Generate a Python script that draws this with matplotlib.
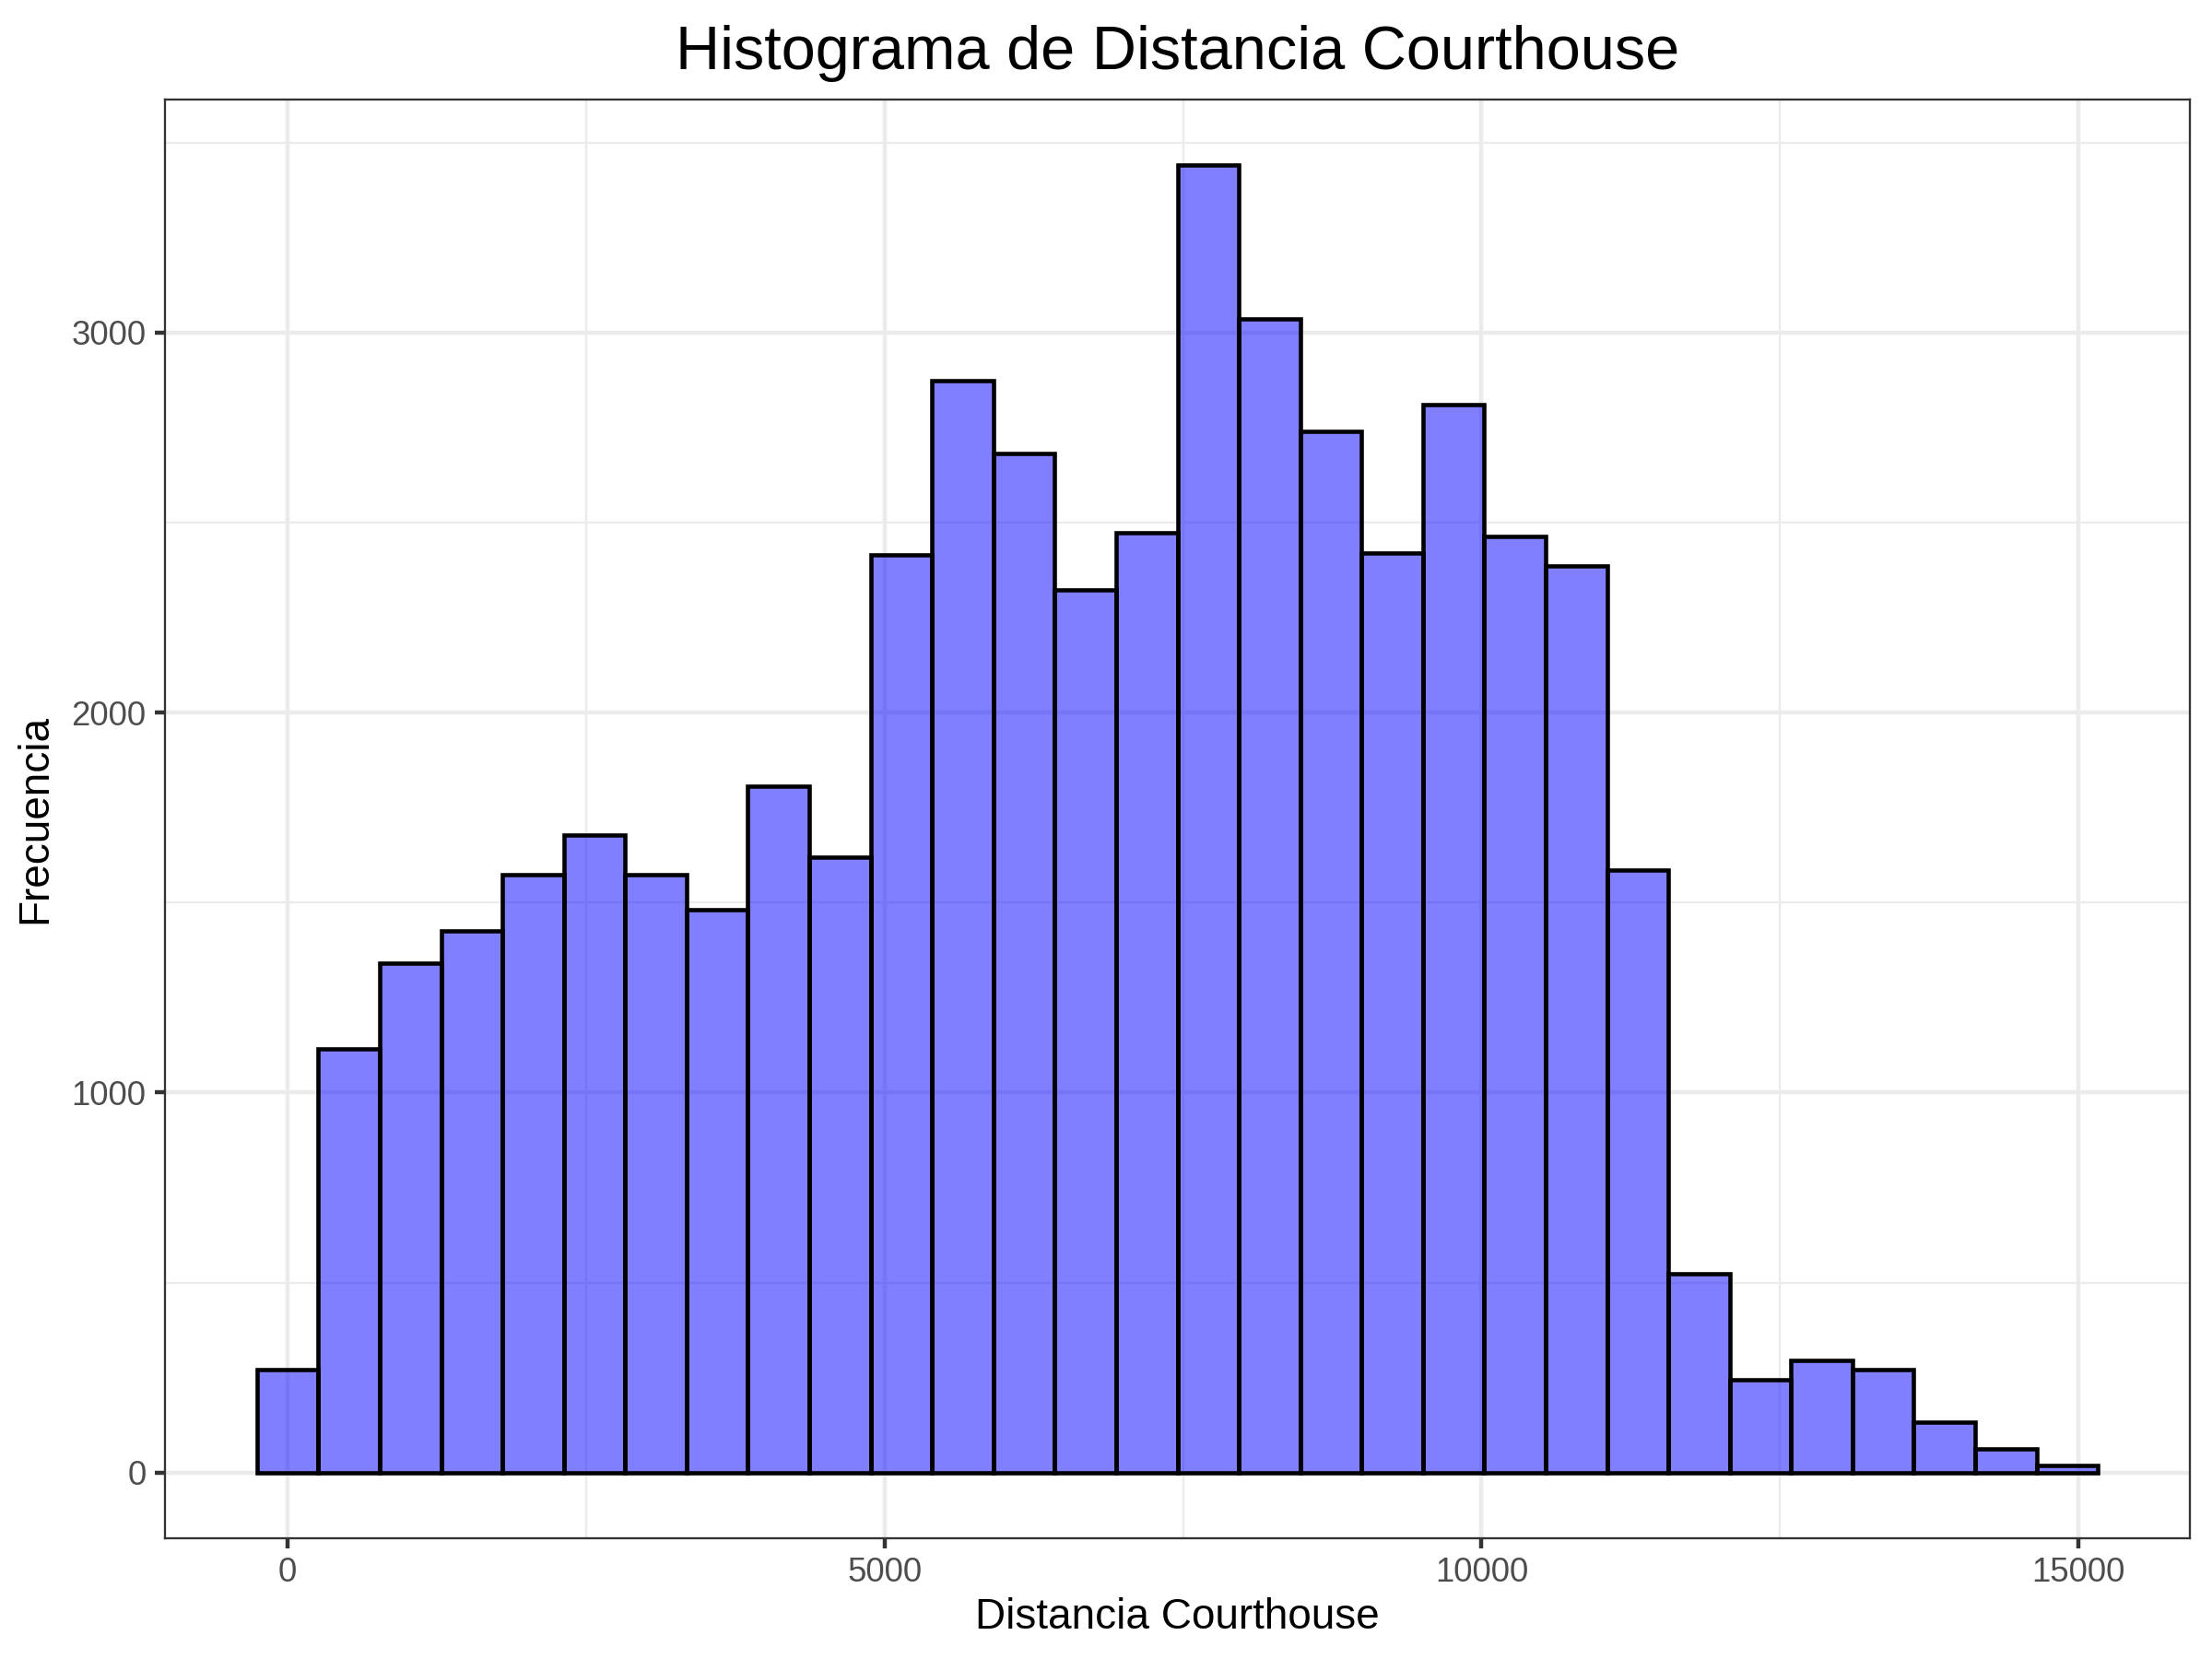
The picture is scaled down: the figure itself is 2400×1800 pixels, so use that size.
import numpy as np
import matplotlib.pyplot as plt
from matplotlib.ticker import MultipleLocator

plt.rcParams['font.family'] = ['Liberation Sans', 'DejaVu Sans']

# histogram counts (30 bins)
counts = [270, 1115, 1341, 1426, 1574, 1678, 1574, 1481, 1807, 1619,
          2415, 2874, 2681, 2322, 2474, 3441, 3037, 2741, 2419, 2811,
          2463, 2385, 1585, 522, 244, 296, 270, 133, 63, 19]
bin_width = 514
centers = np.arange(len(counts)) * bin_width

x_ticks = [0, 5000, 10000, 15000]
y_ticks = [0, 1000, 2000, 3000]

title = "Histograma de Distancia Courthouse"
x_label = "Distancia Courthouse"
y_label = "Frecuencia"

fig = plt.figure(figsize=(8, 6), dpi=300)
ax = fig.add_axes([0.0746, 0.073, 0.9154, 0.867])

ax.bar(centers, counts, width=bin_width, color='#0000FF', alpha=0.5,
       edgecolor='none', zorder=2)
ax.bar(centers, counts, width=bin_width, facecolor='none',
       edgecolor='black', linewidth=1.1, zorder=3)

lo = centers[0] - bin_width / 2
hi = centers[-1] + bin_width / 2
pad = (hi - lo) * 0.05
ax.set_xlim(lo - pad, hi + pad)
ymax = max(counts)
ax.set_ylim(-ymax * 0.05, ymax * 1.05)

ax.set_xticks(x_ticks)
ax.set_yticks(y_ticks)
ax.xaxis.set_minor_locator(MultipleLocator(2500))
ax.yaxis.set_minor_locator(MultipleLocator(500))
ax.grid(which='major', color='#EBEBEB', linewidth=1.07, zorder=0)
ax.grid(which='minor', color='#EBEBEB', linewidth=0.53, zorder=0)
ax.set_axisbelow(True)

for s in ax.spines.values():
    s.set_color('#333333')
    s.set_linewidth(0.55)

ax.tick_params(which='major', length=2.75, width=1.07, color='#333333',
               labelsize=8.8, labelcolor='#4D4D4D', pad=2.2)
ax.tick_params(which='minor', length=0)

ax.set_xlabel(x_label, fontsize=11, labelpad=2)
ax.set_ylabel(y_label, fontsize=11, labelpad=4)
ax.set_title(title, fontsize=16, pad=8)

fig.savefig('out.png', dpi=300, facecolor='white')
